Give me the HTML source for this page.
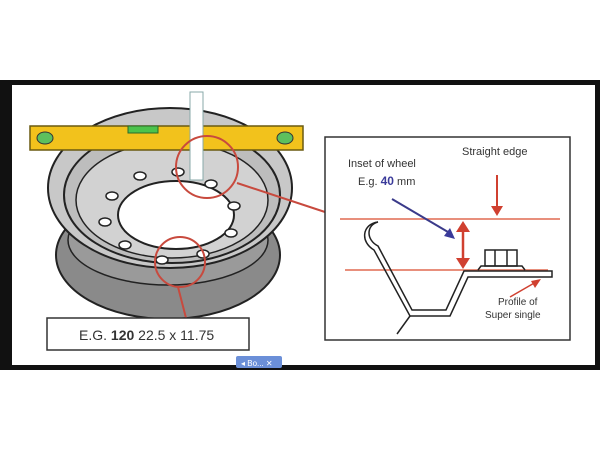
<!DOCTYPE html><html><head><style>body{margin:0;background:#fff}</style></head><body>
<svg width="600" height="450" xmlns="http://www.w3.org/2000/svg" font-family="Liberation Sans, sans-serif">
<rect width="600" height="450" fill="#fff"/>
<rect x="0" y="80" width="600" height="290" fill="#111"/>
<rect x="12" y="85" width="583" height="280" fill="#fff"/>
<!-- wheel -->
<ellipse cx="168" cy="255" rx="112" ry="64" fill="#8a8a8a" stroke="#222" stroke-width="2"/>
<ellipse cx="168" cy="240" rx="100" ry="45" fill="#9a9a9a" stroke="#222" stroke-width="1.5"/>
<ellipse cx="170" cy="188" rx="122" ry="80" fill="#c8c8c8" stroke="#222" stroke-width="2"/>
<ellipse cx="172" cy="195" rx="108" ry="68" fill="#bdbdbd" stroke="#222" stroke-width="2"/>
<ellipse cx="172" cy="200" rx="96" ry="58" fill="#d2d2d2" stroke="#222" stroke-width="1.5"/>
<ellipse cx="176" cy="215" rx="58" ry="34" fill="#fff" stroke="#222" stroke-width="2"/>
<g fill="#fff" stroke="#222" stroke-width="1.5">
<ellipse cx="140" cy="176" rx="6" ry="4"/><ellipse cx="178" cy="172" rx="6" ry="4"/><ellipse cx="211" cy="184" rx="6" ry="4"/>
<ellipse cx="234" cy="206" rx="6" ry="4"/><ellipse cx="231" cy="233" rx="6" ry="4"/><ellipse cx="203" cy="254" rx="6" ry="4"/>
<ellipse cx="162" cy="260" rx="6" ry="4"/><ellipse cx="125" cy="245" rx="6" ry="4"/><ellipse cx="105" cy="222" rx="6" ry="4"/>
<ellipse cx="112" cy="196" rx="6" ry="4"/></g>
<!-- level -->
<rect x="30" y="126" width="273" height="24" fill="#f2c21c" stroke="#6a5a10" stroke-width="1.5"/>
<rect x="128" y="126" width="30" height="7" fill="#4cc34c" stroke="#2a6a2a"/>
<ellipse cx="45" cy="138" rx="8" ry="6" fill="#5dc05d" stroke="#333"/>
<ellipse cx="285" cy="138" rx="8" ry="6" fill="#5dc05d" stroke="#333"/>
<rect x="190" y="92" width="13" height="88" fill="#fff" stroke="#8aa" stroke-width="1"/>
<!-- red circles -->
<circle cx="207" cy="167" r="31" fill="none" stroke="#c84a3e" stroke-width="2"/>
<circle cx="180" cy="262" r="25" fill="none" stroke="#c84a3e" stroke-width="2"/>
<line x1="237" y1="183" x2="325" y2="212" stroke="#c84a3e" stroke-width="2"/>
<line x1="178" y1="287" x2="186" y2="318" stroke="#c84a3e" stroke-width="2"/>
<rect x="47" y="318" width="202" height="32" fill="#fff" stroke="#333" stroke-width="1.5"/>
<text x="79" y="340" font-size="14" fill="#333">E.G. <tspan font-weight="bold">120</tspan>  22.5 x 11.75</text>
<rect x="236" y="356" width="46" height="12" fill="#6b8fd8" rx="2"/>
<text x="241" y="366" font-size="8" fill="#fff">◂ Bo...  ✕</text>
<!-- detail box -->
<rect x="325" y="137" width="245" height="203" fill="#fff" stroke="#333" stroke-width="1.5"/>
<text x="462" y="155" font-size="11" fill="#333">Straight edge</text>
<text x="348" y="167" font-size="11" fill="#333">Inset of wheel</text>
<text x="358" y="185" font-size="11" fill="#333">E.g. <tspan fill="#3a3a9a" font-weight="bold" font-size="12">40</tspan> mm</text>
<line x1="340" y1="219" x2="560" y2="219" stroke="#e06a50" stroke-width="1.5"/>
<line x1="345" y1="270" x2="548" y2="270" stroke="#e06a50" stroke-width="1.5"/>
<line x1="497" y1="175" x2="497" y2="208" stroke="#d04030" stroke-width="2"/>
<polygon points="491,206 503,206 497,216" fill="#d04030"/>
<line x1="392" y1="199" x2="448" y2="232" stroke="#3a3a8a" stroke-width="2"/>
<polygon points="444,236 455,239 450,228" fill="#3a3a9a"/>
<line x1="463" y1="228" x2="463" y2="262" stroke="#d04030" stroke-width="2.5"/>
<polygon points="456,232 470,232 463,221" fill="#d04030"/>
<polygon points="456,258 470,258 463,269" fill="#d04030"/>
<g fill="none" stroke="#222" stroke-width="1.5">
<path d="M378,222 C366,225 366,240 378,246 L412,310 L446,310 L464,271 L552,271 L552,277 L468,277 L450,316 L410,316 L374,250 C360,242 362,224 378,222Z"/>
<line x1="410" y1="316" x2="397" y2="334"/>
<rect x="485" y="250" width="32" height="16"/>
<line x1="495" y1="250" x2="495" y2="266"/><line x1="507" y1="250" x2="507" y2="266"/>
<path d="M478,270 L481,266 L522,266 L525,270"/>
</g>
<line x1="510" y1="297" x2="536" y2="282" stroke="#d04030" stroke-width="1.5"/>
<polygon points="531,281 541,279 535,288" fill="#d04030"/>
<text x="498" y="305" font-size="10" fill="#333">Profile of</text>
<text x="485" y="318" font-size="10" fill="#333">Super single</text>
</svg>
</body></html>
